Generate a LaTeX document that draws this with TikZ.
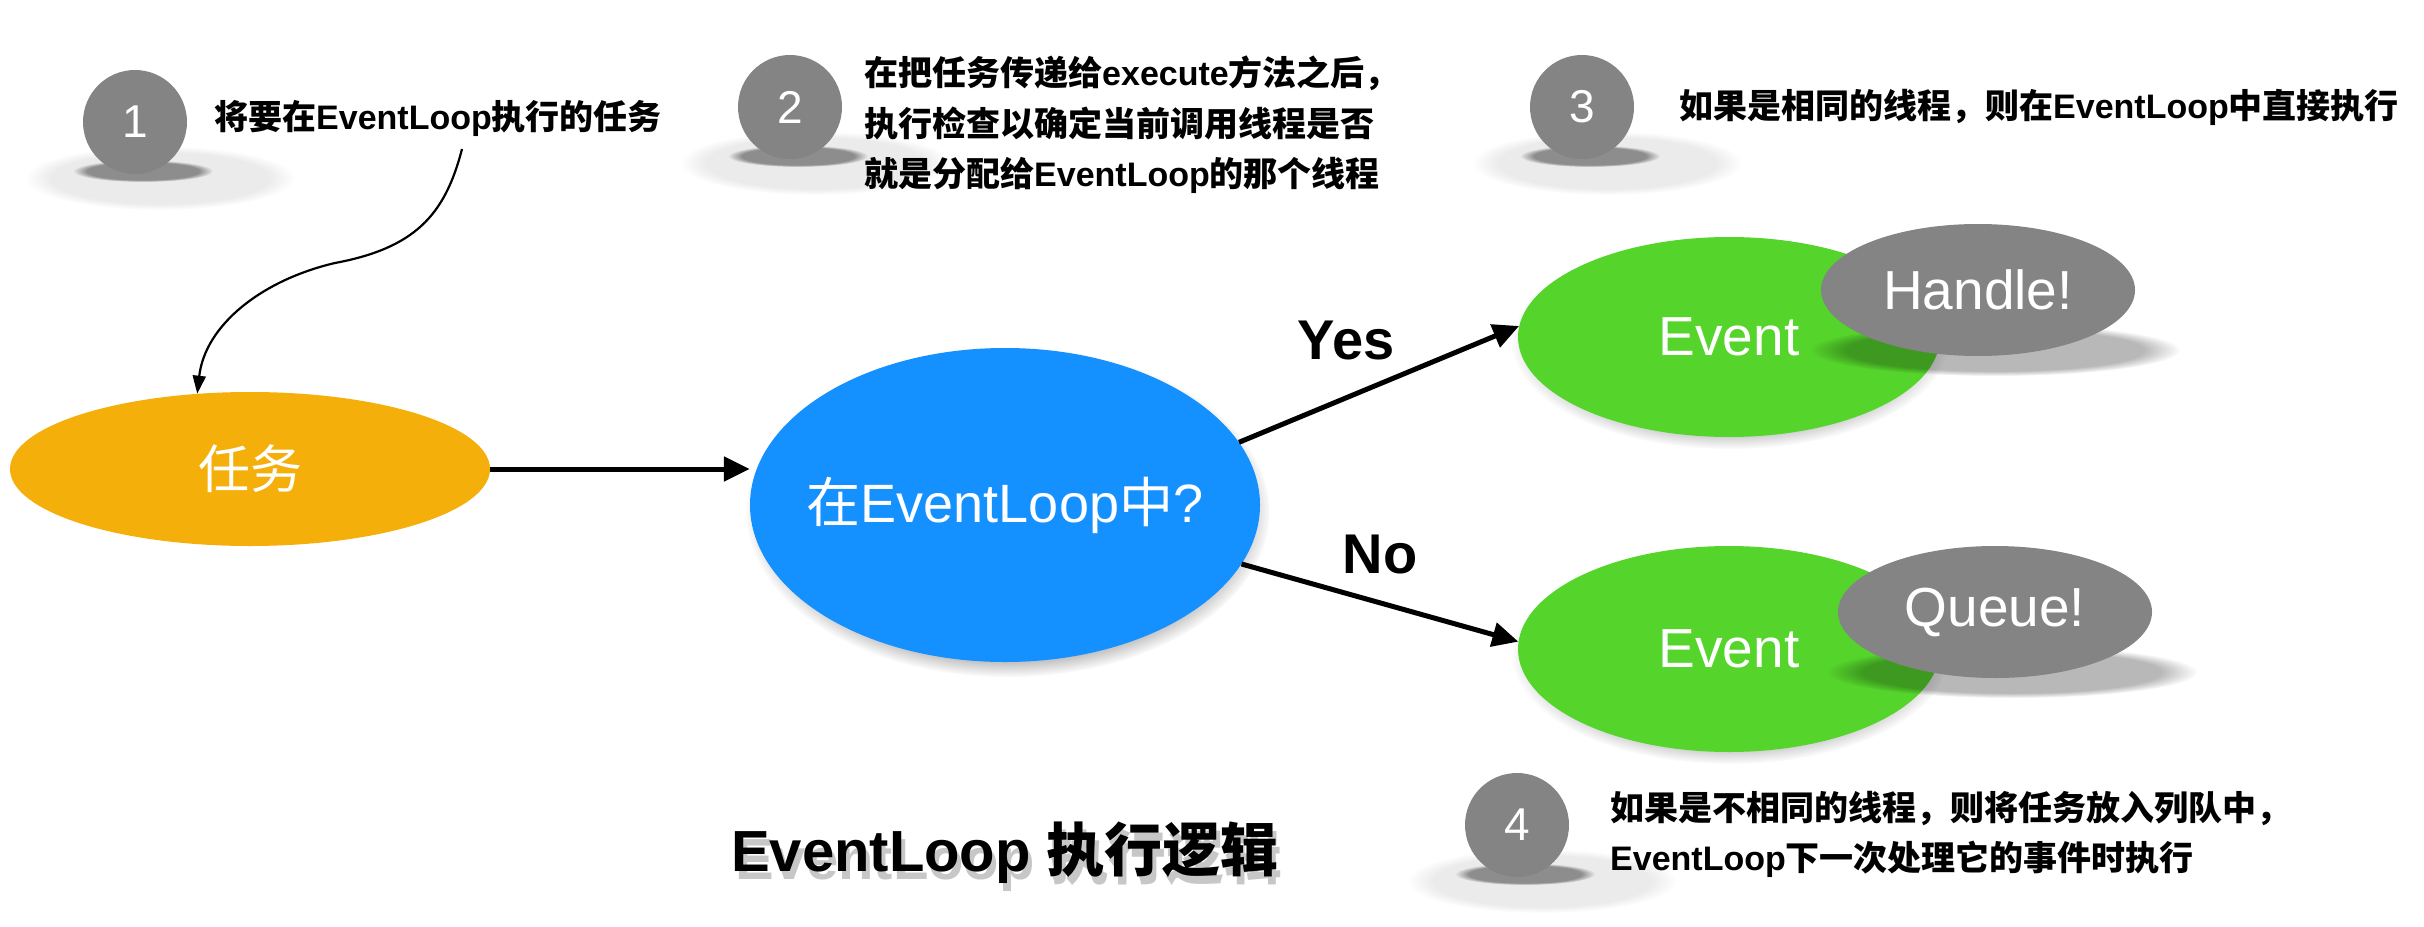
\documentclass[tikz,border=0pt]{standalone}
\usepackage{fontspec}
\setmainfont{Liberation Sans}
\newfontfamily\cjk{Noto Sans CJK SC}
\newcommand\zhs[1]{{\cjk #1}}
\newcommand\nw[1]{\makebox[0pt]{#1}}
\usetikzlibrary{shapes.geometric,arrows.meta,fadings}
\definecolor{cgrey}{HTML}{848484}
\definecolor{corange}{HTML}{F5AF0A}
\definecolor{cblue}{HTML}{1490FF}
\definecolor{cgreen}{HTML}{55D52C}
\newcommand\fuzzy[4]{\fill[black,opacity=#4,path fading=circle with fuzzy edge 20 percent] #1 ellipse (#2 and #3);}
\tikzset{
 numc/.style={circle, fill=cgrey, minimum size=104pt, inner sep=0pt, text=white, font=\fontsize{46}{46}\selectfont},
 note/.style={anchor=west, align=left, inner sep=0pt, font=\fontsize{34}{50.5}\selectfont\bfseries},
 blob/.style={ellipse, inner sep=0pt, text=white},
 big/.style={font=\fontsize{55}{60}\selectfont},
 conn/.style={line width=5pt, -{Triangle[length=26pt,width=24pt]}},
 lab/.style={font=\fontsize{56}{60}\selectfont\bfseries, inner sep=0pt},
}
\begin{document}
\begin{tikzpicture}[x=1pt,y=-1pt]
\useasboundingbox (0,0) rectangle (2424,926);
% circle shadows
\foreach \cx/\cy in {135/122, 790/107, 1582/107, 1517/825}{
  \fuzzy{(\cx+25,\cy+56)}{135pt}{32pt}{0.08}
  \fuzzy{(\cx+8,\cy+49)}{70pt}{11pt}{0.40}
}
% numbered circles
\node[numc] (n1) at (135,122) {1};
\node[numc] (n2) at (790,107) {2};
\node[numc] (n3) at (1582,107) {3};
\node[numc] (n4) at (1517,825) {4};
% notes
\node[note] (t1) at (214,118) {\zhs{将要在}EventLoop\zhs{执行的任务}};
\node[note] (t2) at (864,125) {\zhs{在把任务传递给}execute\zhs{方法之后，}\\ \zhs{执行检查以确定当前调用线程是否}\\ \zhs{就是分配给}EventLoop\zhs{的那个线程}};
\node[note] (t3) at (1679,107) {\zhs{如果是相同的线程，则在}EventLoop\zhs{中直接执行}};
\node[note] (t4) at (1610,834.5) {\zhs{如果是不相同的线程，则将任务放入列队中，}\\ EventLoop\zhs{下一次处理它的事件时执行}};
% main shapes shadows
\fuzzy{(1008,512)}{262pt}{165pt}{0.5}
\fuzzy{(1730,343)}{218pt}{106pt}{0.3}
\fuzzy{(1730,655)}{218pt}{109pt}{0.3}
% main shapes
\node[blob, fill=corange, minimum width=480pt, minimum height=154pt, font=\fontsize{52}{56}\selectfont] (task) at (250,469) {\nw{\zhs{任务}}};
\node[blob, fill=cblue, minimum width=510pt, minimum height=314pt, font=\fontsize{54}{58}\selectfont] (blue) at (1005,505) {\nw{\zhs{在}EventLoop\zhs{中}?}};
\node[blob, fill=cgreen, minimum width=422pt, minimum height=200pt, big] (ev1) at (1729,337) {\nw{Event}};
\node[blob, fill=cgreen, minimum width=422pt, minimum height=206pt, big] (ev2) at (1729,649) {\nw{Event}};
\fuzzy{(1995,350)}{185pt}{26pt}{0.28}
\fuzzy{(2012,672)}{185pt}{26pt}{0.28}
\node[blob, fill=cgrey, minimum width=314pt, minimum height=132pt, big] (h) at (1978,290) {\nw{Handle!}};
\node[blob, fill=cgrey, minimum width=314pt, minimum height=132pt, big] (q) at (1995,612) {\nw{Queue!}};
% connectors
\draw[conn] (task.east) -- (task.east -| blue.west);
\draw[conn] (blue.15) -- (ev1.177);
\draw[conn] (blue.-14) -- (ev2.178);
\coordinate (s1) at (462,149);
\draw[line width=2.2pt, -{Triangle[length=18pt,width=13pt]}] (s1) .. controls (445,215) and (415,248) .. (335,263) .. controls (262,280) and (205,325) .. (task.125);
% labels
\node[lab] (yes) at (1346,341) {Yes};
\node[lab] (no) at (1380,555) {No};
% title
\node[font=\fontsize{58}{62}\selectfont\bfseries, text=black, opacity=0.22] (tshadow) at (1009,861) {EventLoop \zhs{执行逻辑}};
\node[font=\fontsize{58}{62}\selectfont\bfseries] (title) at (1005,853) {EventLoop \zhs{执行逻辑}};
\end{tikzpicture}
\end{document}
